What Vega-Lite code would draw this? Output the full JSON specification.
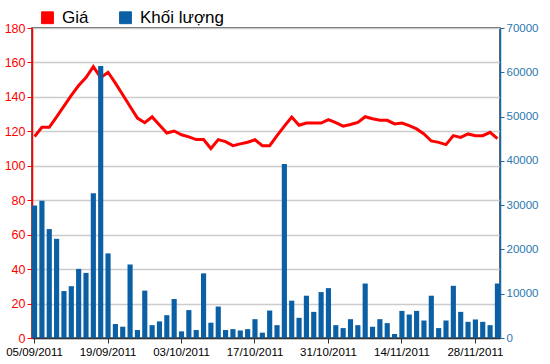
{
  "$schema": "https://vega.github.io/schema/vega-lite/v6.json",
  "autosize": "none",
  "width": 468,
  "height": 310,
  "padding": {"left": 32, "top": 28, "right": 50, "bottom": 26},
  "background": "white",
  "config": {
    "view": {"stroke": "#333333", "strokeWidth": 1.5},
    "font": "Liberation Sans"
  },
  "data": {"values": [
    {"d":"05/09/2011","p":117.0,"v":29900},
    {"d":"06/09/2011","p":122.3,"v":31000},
    {"d":"07/09/2011","p":122.3,"v":24600},
    {"d":"08/09/2011","p":128.4,"v":22400},
    {"d":"09/09/2011","p":134.6,"v":10600},
    {"d":"12/09/2011","p":140.9,"v":11700},
    {"d":"13/09/2011","p":146.6,"v":15600},
    {"d":"14/09/2011","p":151.2,"v":14700},
    {"d":"15/09/2011","p":157.5,"v":32700},
    {"d":"16/09/2011","p":151.2,"v":61400},
    {"d":"19/09/2011","p":154.3,"v":19100},
    {"d":"20/09/2011","p":148.0,"v":3150},
    {"d":"21/09/2011","p":141.2,"v":2550},
    {"d":"22/09/2011","p":134.4,"v":16600},
    {"d":"23/09/2011","p":127.7,"v":1800},
    {"d":"26/09/2011","p":125.0,"v":10700},
    {"d":"27/09/2011","p":128.4,"v":2900},
    {"d":"28/09/2011","p":123.7,"v":3750},
    {"d":"29/09/2011","p":119.0,"v":5150},
    {"d":"30/09/2011","p":120.2,"v":8800},
    {"d":"03/10/2011","p":118.0,"v":1500},
    {"d":"04/10/2011","p":116.8,"v":6300},
    {"d":"05/10/2011","p":115.2,"v":1800},
    {"d":"06/10/2011","p":115.2,"v":14600},
    {"d":"07/10/2011","p":110.0,"v":3450},
    {"d":"10/10/2011","p":115.2,"v":7100},
    {"d":"11/10/2011","p":114.0,"v":1800},
    {"d":"12/10/2011","p":111.7,"v":2000},
    {"d":"13/10/2011","p":112.7,"v":1700},
    {"d":"14/10/2011","p":113.7,"v":2000},
    {"d":"17/10/2011","p":115.1,"v":4250},
    {"d":"18/10/2011","p":111.7,"v":1200},
    {"d":"19/10/2011","p":111.7,"v":6200},
    {"d":"20/10/2011","p":117.5,"v":2900},
    {"d":"21/10/2011","p":123.0,"v":39300},
    {"d":"24/10/2011","p":128.3,"v":8430},
    {"d":"25/10/2011","p":123.5,"v":4550},
    {"d":"26/10/2011","p":124.8,"v":9550},
    {"d":"27/10/2011","p":124.8,"v":5900},
    {"d":"28/10/2011","p":124.8,"v":10370},
    {"d":"31/10/2011","p":126.8,"v":11260},
    {"d":"01/11/2011","p":125.0,"v":2900},
    {"d":"02/11/2011","p":123.0,"v":2240},
    {"d":"03/11/2011","p":124.0,"v":4250},
    {"d":"04/11/2011","p":125.2,"v":2900},
    {"d":"07/11/2011","p":128.5,"v":12300},
    {"d":"08/11/2011","p":127.3,"v":2540},
    {"d":"09/11/2011","p":126.4,"v":4250},
    {"d":"10/11/2011","p":126.4,"v":3360},
    {"d":"11/11/2011","p":124.3,"v":900},
    {"d":"14/11/2011","p":124.8,"v":6120},
    {"d":"15/11/2011","p":123.3,"v":5300},
    {"d":"16/11/2011","p":121.4,"v":6120},
    {"d":"17/11/2011","p":118.5,"v":3950},
    {"d":"18/11/2011","p":114.4,"v":9550},
    {"d":"21/11/2011","p":113.6,"v":2240},
    {"d":"22/11/2011","p":112.3,"v":3950},
    {"d":"23/11/2011","p":117.5,"v":11790},
    {"d":"24/11/2011","p":116.5,"v":5900},
    {"d":"25/11/2011","p":118.5,"v":3650},
    {"d":"28/11/2011","p":117.5,"v":4180},
    {"d":"29/11/2011","p":117.5,"v":3650},
    {"d":"30/11/2011","p":119.4,"v":2900},
    {"d":"01/12/2011","p":115.7,"v":12300}
  ]},
  "encoding": {
    "x": {
      "field": "d", "type": "ordinal", "sort": null,
      "scale": {"type": "band", "paddingInner": 0.3, "paddingOuter": 0},
      "axis": {
        "title": null,
        "values": ["05/09/2011","19/09/2011","03/10/2011","17/10/2011","31/10/2011","14/11/2011","28/11/2011"],
        "labelAngle": 0, "labelFont": "Liberation Sans", "labelFontSize": 11.5, "labelColor": "#000000",
        "labelPadding": 3, "tickSize": 5, "tickColor": "#333333", "domainColor": "#333333", "domainWidth": 1.5,
        "grid": false, "bandPosition": 0.5
      }
    }
  },
  "layer": [
    {
      "mark": {"type": "line", "strokeWidth": 3, "color": "#ff0000"},
      "encoding": {
        "x": {"field": "d", "type": "ordinal", "sort": null, "bandPosition": 0.5},
        "y": {
          "field": "p", "type": "quantitative",
          "scale": {"domain": [0, 180], "nice": false, "zero": true},
          "axis": {
            "orient": "left", "title": null,
            "values": [0,20,40,60,80,100,120,140,160,180],
            "labelColor": "#ff0000", "labelFont": "Liberation Sans", "labelFontSize": 12.5,
            "domainColor": "#ff0000", "domainWidth": 1.5, "tickColor": "#ff0000", "tickSize": 5, "labelPadding": 2,
            "grid": true, "gridColor": "#cccccc", "gridWidth": 1.5
          }
        },
        "color": {
          "datum": "Giá", "type": "nominal",
          "scale": {"domain": ["Giá", "Khối lượng"], "range": ["#ff0000", "#0a5fa5"]},
          "legend": {
            "title": null, "orient": "none", "direction": "horizontal",
            "legendX": 7, "legendY": -19,
            "symbolType": "square", "symbolSize": 140, "symbolStrokeWidth": 1,
            "labelFont": "Liberation Sans", "labelFontSize": 17, "labelColor": "#000000",
            "labelOffset": 6, "columnPadding": 28,
            "encode": {"symbols": {"update": {
              "fill": {"scale": "color", "field": "value"},
              "stroke": {"value": "#222222"},
              "strokeWidth": {"value": 1},
              "opacity": {"value": 1},
              "fillOpacity": {"value": 1}
            }}}
          }
        }
      }
    },
    {
      "mark": {"type": "bar", "color": "#0a5fa5"},
      "encoding": {
        "y": {
          "field": "v", "type": "quantitative",
          "scale": {"domain": [0, 70000], "nice": false},
          "axis": {
            "orient": "right", "title": null,
            "values": [0,10000,20000,30000,40000,50000,60000,70000],
            "format": "d",
            "labelColor": "#2a78b0", "labelFont": "Liberation Sans", "labelFontSize": 11.5,
            "domainColor": "#1a6aa8", "domainWidth": 1.5, "tickColor": "#1a6aa8", "tickSize": 4, "labelPadding": 2,
            "grid": false
          }
        },
        "color": {"datum": "Khối lượng", "type": "nominal"}
      }
    }
  ],
  "resolve": {"scale": {"y": "independent"}, "axis": {"y": "independent"}}
}
